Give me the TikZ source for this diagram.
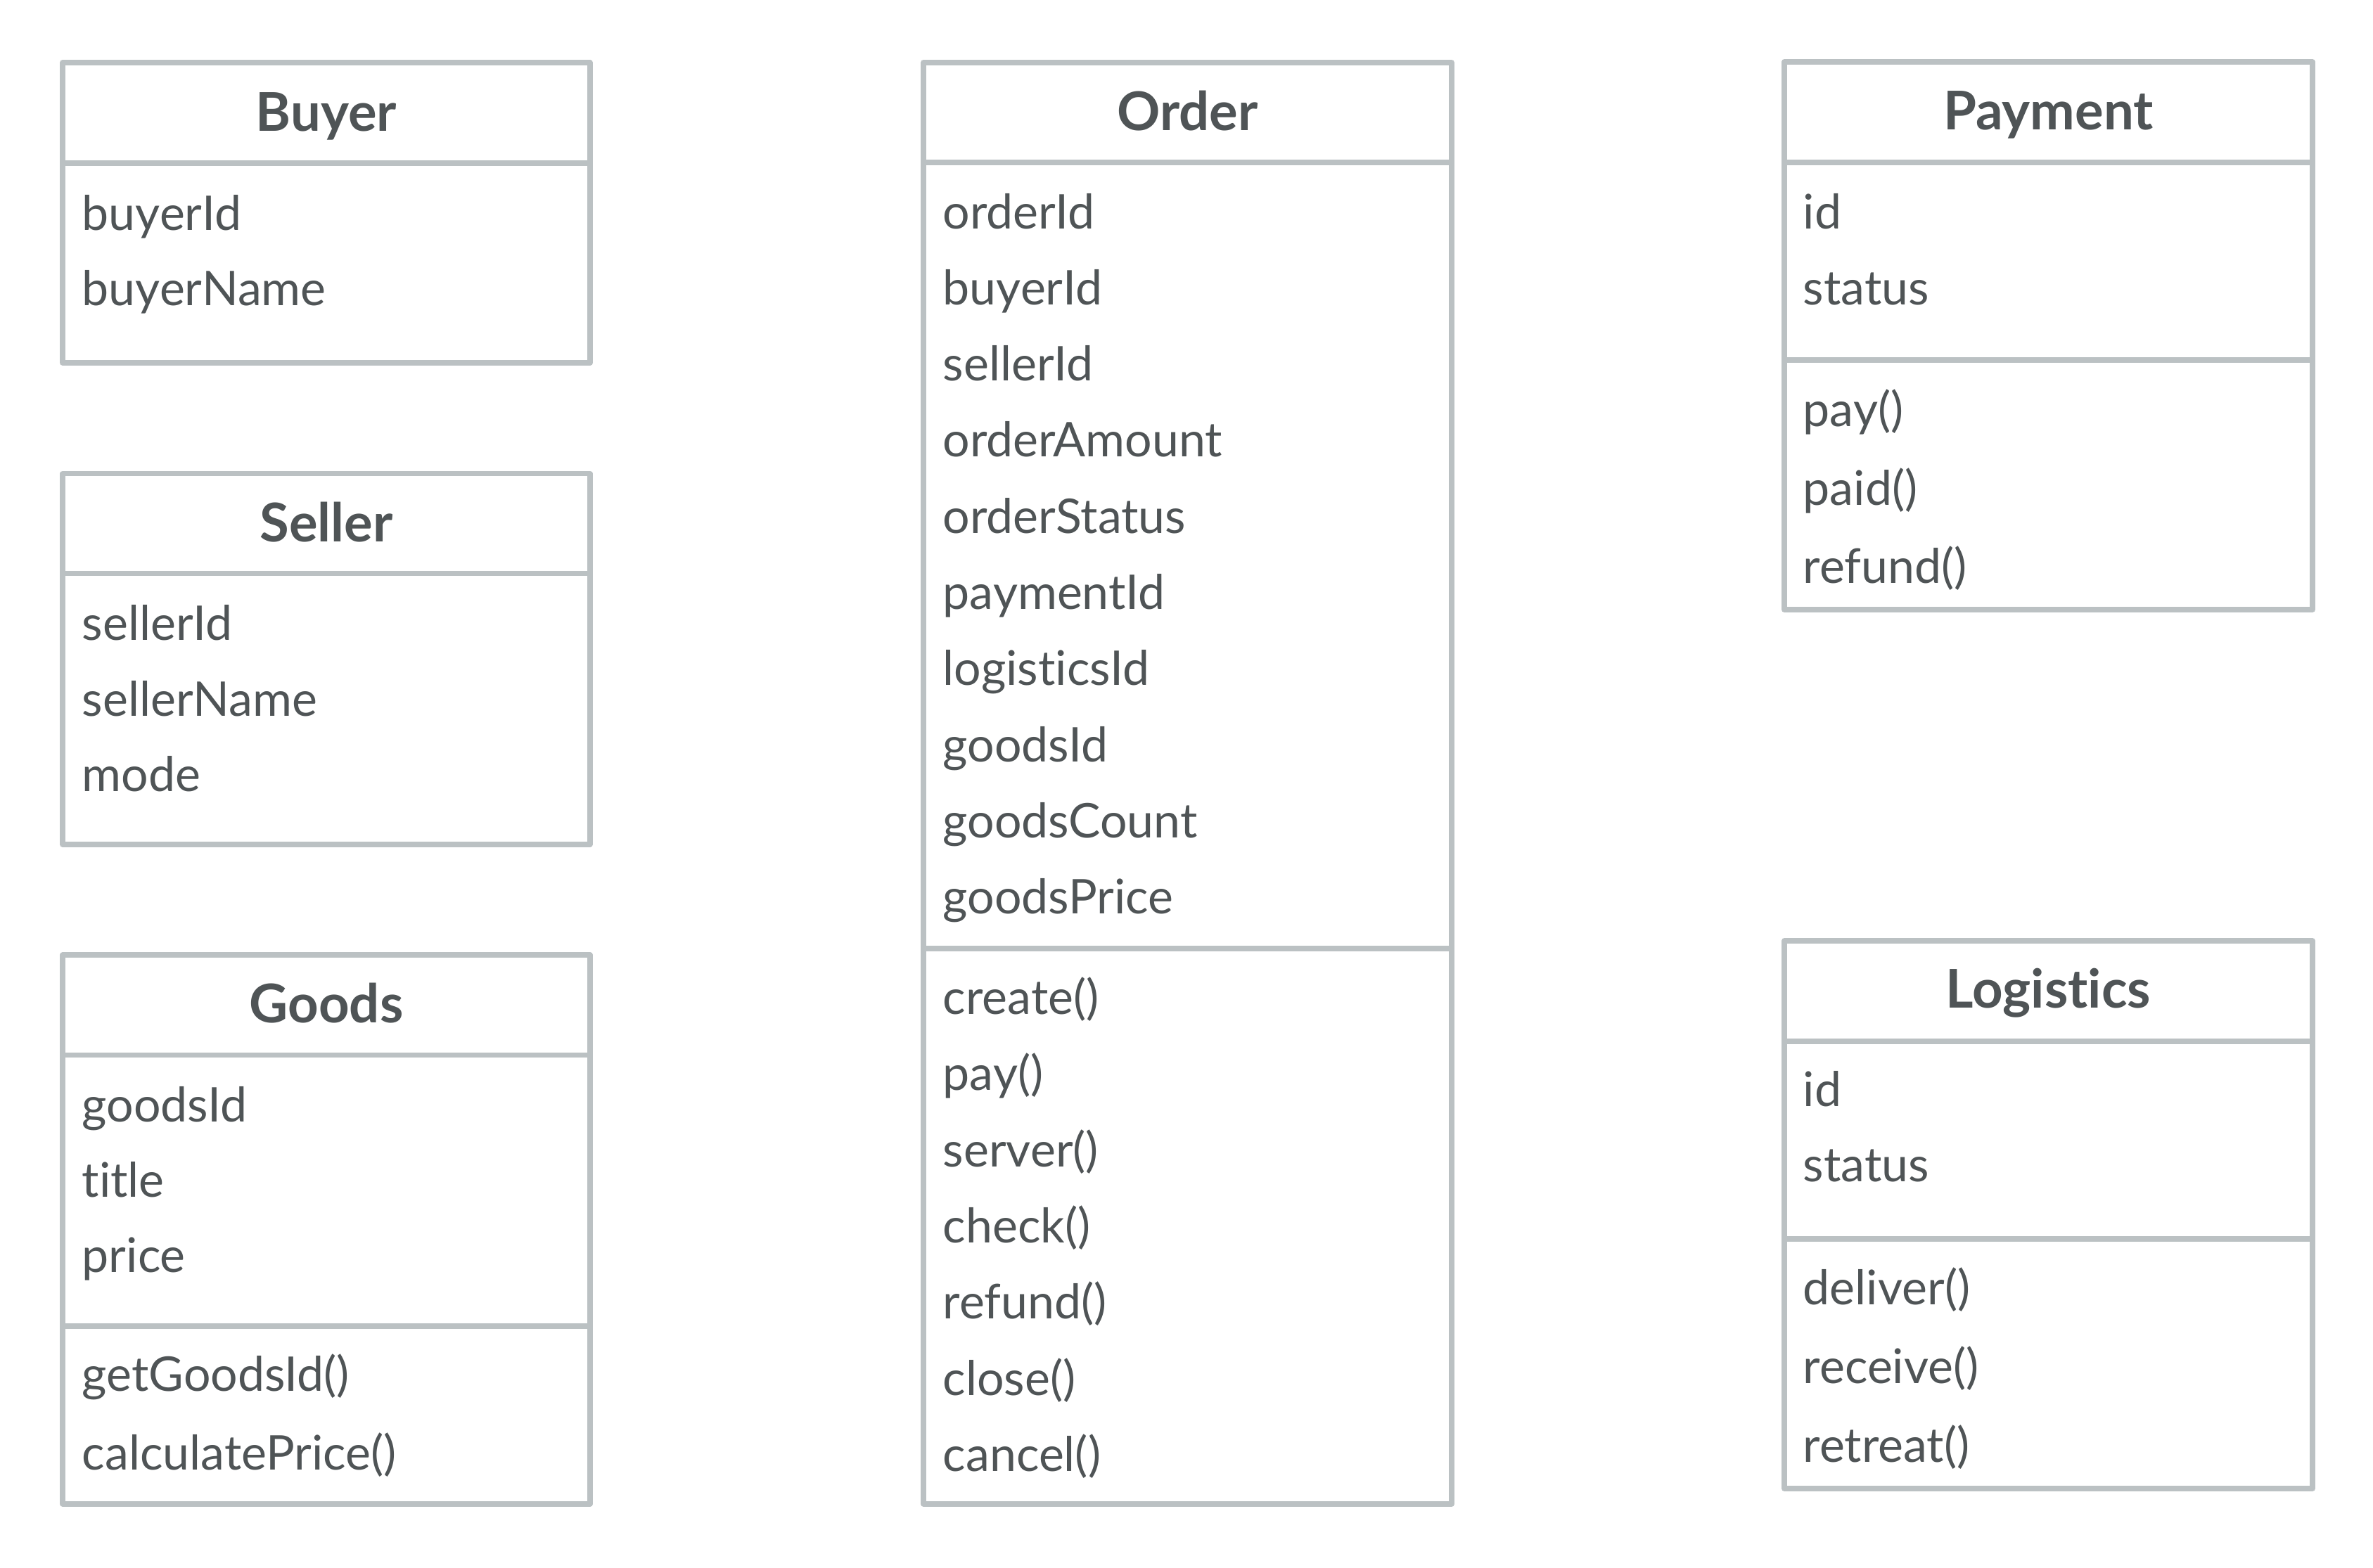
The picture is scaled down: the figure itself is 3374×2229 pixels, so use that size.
\documentclass[tikz,border=0pt]{standalone}
\usepackage{fontspec}
\setmainfont{Lato}[Ligatures={NoCommon,NoRequired}]
\usetikzlibrary{fit}
\definecolor{linegray}{HTML}{BBC1C3}
\definecolor{textgray}{HTML}{4F5456}
\tikzset{
  classbox/.style={draw=linegray, line width=1.9pt, inner sep=0pt, line join=round, rectangle},
  sepline/.style={draw=linegray, line width=1.9pt},
  attr/.style={anchor=base west, inner sep=0pt, text=textgray, font=\fontsize{17}{20}\selectfont},
  ctitle/.style={anchor=base, inner sep=0pt, text=textgray, font=\bfseries\fontsize{19}{22}\selectfont},
}
\begin{document}
\begin{tikzpicture}[x=0.25pt, y=-0.25pt]
\useasboundingbox (0,0) rectangle (3374,2229);

% Buyer
\node[classbox, fit={(89,89) (839,516)}] (buyer) {};
\draw[sepline] (buyer.west |- 0,232) -- (buyer.east |- 0,232);
\node[ctitle] (buyerT) at (464,186) {Buyer};
\node[attr] (buyerA1) at (116,327) {buyerId};
\node[attr] (buyerA2) at (116,434) {buyerName};

% Seller
\node[classbox, fit={(89,673.5) (839,1200.7)}] (seller) {};
\draw[sepline] (seller.west |- 0,815.6) -- (seller.east |- 0,815.6);
\node[ctitle] (sellerT) at (464,770.5) {Seller};
\node[attr] (sellerA1) at (116,910.5) {sellerId};
\node[attr] (sellerA2) at (116,1018) {sellerName};
\node[attr] (sellerA3) at (116,1125) {mode};

% Goods
\node[classbox, fit={(89,1358) (839,2139)}] (goods) {};
\draw[sepline] (goods.west |- 0,1500.5) -- (goods.east |- 0,1500.5);
\draw[sepline] (goods.west |- 0,1885.7) -- (goods.east |- 0,1885.7);
\node[ctitle] (goodsT) at (464,1454) {Goods};
\node[attr] (goodsA1) at (116,1595.6) {goodsId};
\node[attr] (goodsA2) at (116,1702.5) {title};
\node[attr] (goodsA3) at (116,1809) {price};
\node[attr] (goodsM1) at (116,1978) {getGoodsId()};
\node[attr] (goodsM2) at (116,2090) {calculatePrice()};

% Order
\node[classbox, fit={(1313,89) (2064,2139)}] (order) {};
\draw[sepline] (order.west |- 0,231) -- (order.east |- 0,231);
\draw[sepline] (order.west |- 0,1349) -- (order.east |- 0,1349);
\node[ctitle] (orderT) at (1688.5,185.5) {Order};
\node[attr] (orderA1) at (1340,325) {orderId};
\node[attr] (orderA2) at (1340,433.3) {buyerId};
\node[attr] (orderA3) at (1340,541.6) {sellerId};
\node[attr] (orderA4) at (1340,649.9) {orderAmount};
\node[attr] (orderA5) at (1340,758.2) {orderStatus};
\node[attr] (orderA6) at (1340,866.5) {paymentId};
\node[attr] (orderA7) at (1340,974.8) {logisticsId};
\node[attr] (orderA8) at (1340,1083.1) {goodsId};
\node[attr] (orderA9) at (1340,1191.4) {goodsCount};
\node[attr] (orderA10) at (1340,1299.7) {goodsPrice};
\node[attr] (orderM1) at (1340,1442.5) {create()};
\node[attr] (orderM2) at (1340,1550.8) {pay()};
\node[attr] (orderM3) at (1340,1659.1) {server()};
\node[attr] (orderM4) at (1340,1767.4) {check()};
\node[attr] (orderM5) at (1340,1875.7) {refund()};
\node[attr] (orderM6) at (1340,1984) {close()};
\node[attr] (orderM7) at (1340,2092.3) {cancel()};

% Payment
\node[classbox, fit={(2537,88) (3288,867)}] (payment) {};
\draw[sepline] (payment.west |- 0,230.7) -- (payment.east |- 0,230.7);
\draw[sepline] (payment.west |- 0,512) -- (payment.east |- 0,512);
\node[ctitle] (paymentT) at (2912.5,184.5) {Payment};
\node[attr] (paymentA1) at (2563,325) {id};
\node[attr] (paymentA2) at (2563,433) {status};
\node[attr] (paymentM1) at (2563,606) {pay()};
\node[attr] (paymentM2) at (2563,718) {paid()};
\node[attr] (paymentM3) at (2563,829.5) {refund()};

% Logistics
\node[classbox, fit={(2537,1338) (3288,2117)}] (logistics) {};
\draw[sepline] (logistics.west |- 0,1481) -- (logistics.east |- 0,1481);
\draw[sepline] (logistics.west |- 0,1762) -- (logistics.east |- 0,1762);
\node[ctitle] (logisticsT) at (2912.5,1433) {Logistics};
\node[attr] (logisticsA1) at (2563,1573.6) {id};
\node[attr] (logisticsA2) at (2563,1680) {status};
\node[attr] (logisticsM1) at (2563,1855) {deliver()};
\node[attr] (logisticsM2) at (2563,1967) {receive()};
\node[attr] (logisticsM3) at (2563,2079.6) {retreat()};
\end{tikzpicture}
\end{document}
